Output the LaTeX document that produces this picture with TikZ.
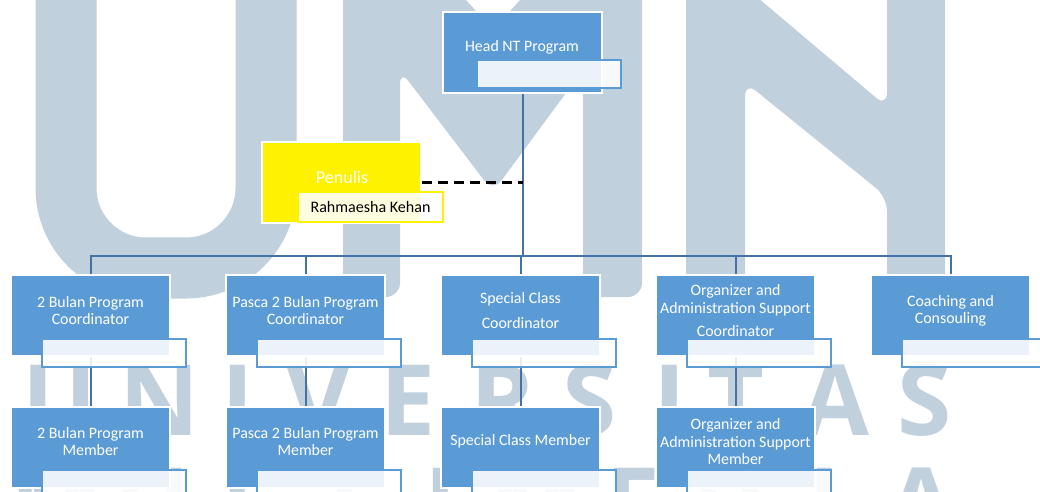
\documentclass[tikz,border=0pt]{standalone}
\usepackage{fontspec}
\setmainfont{Carlito}
\newfontfamily\wmfont{Open Sans}
\usetikzlibrary{positioning}
\pgfdeclarelayer{back}
\pgfsetlayers{back,main}
\newdimen\unitpx \unitpx=0.025cm
\definecolor{unitblue}{RGB}{91,155,213}
\definecolor{linkblue}{RGB}{68,114,163}
\definecolor{wmgray}{RGB}{193,208,221}
\tikzset{
  unit/.style={draw=white, line width=2\unitpx, fill=unitblue,
    minimum width=159\unitpx, minimum height=81\unitpx, inner sep=0pt},
  penbox/.style={unit, fill=yellow},
  namebox/.style={draw=unitblue, line width=2\unitpx, fill=white, fill opacity=0.88,
    text opacity=1, minimum width=144\unitpx, minimum height=28\unitpx, inner sep=0pt},
  penname/.style={namebox, draw=yellow, minimum width=145\unitpx, minimum height=30\unitpx,
    font=\fontsize{11.4}{13}\selectfont},
  title/.style={text=white, align=center, font=\fontsize{11.3}{12.2}\selectfont, inner sep=0pt},
  link/.style={draw=linkblue, line width=2\unitpx},
  letter/.style={text=wmgray, font=\wmfont\bfseries\fontsize{70}{70}\selectfont,
    inner sep=0pt, anchor=base}
}
\begin{document}
\begin{tikzpicture}[x=0.025cm, y=-0.025cm]
  \useasboundingbox (0,0) rectangle (1040,492);

  % head and writer
  \node[unit] (head) at (522.5,52.5) {};
  \node[namebox] (head-n) at (549,74.5) {};
  \node[title] (head-t) at (522,47) {Head NT Program};

  \node[penbox] (pen) at (341.5,182.5) {};
  \node[penname] (pen-n) at (370.5,207) {Rahmaesha Kehan};
  \node[title, font=\fontsize{12.8}{14}\selectfont] (pen-t) at (342,177) {Penulis};

  % coordinators
  \foreach \i/\x/\txt in {1/90.5/{2 Bulan Program\\Coordinator},
      2/305.5/{Pasca 2 Bulan Program\\Coordinator},
      3/520.5/{Special Class\\[5.5pt]Coordinator},
      4/735.5/{Organizer and\\[0.6pt]Administration Support\\[4.8pt]Coordinator},
      5/950.5/{Coaching and\\Consouling}} {
    \node[unit] (c\i) at (\x,315) {};
    \node[namebox] (c\i-n) at (\x+23.5,353) {};
    \node[title] (c\i-t) at (\x,310.5) {\txt};
  }

  % members
  \foreach \i/\x/\txt in {1/90.5/{2 Bulan Program\\Member},
      2/305.5/{Pasca 2 Bulan Program\\Member},
      3/520.5/{Special Class Member},
      4/735.5/{Organizer and\\[0.6pt]Administration Support\\Member}} {
    \node[unit] (m\i) at (\x,447) {};
    \node[namebox] (m\i-n) at (\x+23.5,484) {};
    \node[title] (m\i-t) at (\x,441.5) {\txt};
  }

  \begin{pgfonlayer}{back}
    \begin{scope}
      \clip (0,0) rectangle (1040,492);
      \draw[wmgray, line width=61\unitpx, rounded corners=80\unitpx]
        (66,-300) -- (66,268) -- (266,268) -- (266,-300);
      \fill[wmgray, rounded corners=10] (343,-30) -- (343,297) -- (400,297) -- (400,70)
        -- (493,192) -- (583,70) -- (583,297) -- (642,297) -- (642,-30) -- (547,-30)
        -- (493,30) -- (439,-30) -- cycle;
      \fill[wmgray, rounded corners=10] (686,-30) -- (725,-30) -- (887,107) -- (887,-30)
        -- (945,-30) -- (945,297) -- (887,297) -- (887,197) -- (745,82) -- (745,297)
        -- (686,297) -- cycle;
      \foreach \ch/\x in {U/60, N/160, I/238, V/318, E/408, R/503, S/590, I/670, T/736, A/835, S/925}
        \node[letter] (wm-\x) at (\x,435) {\ch};
      \foreach \ch [count=\k] in {M,U,L,T,I,M,E,D,I,A}
        \node[letter] (wmb-\k) at (57+96*\k-96,538) {\ch};
    \end{scope}

    \coordinate (bus) at (522.5,256);
    \draw[link] (head.south) -- (bus);
    \draw[link] (c1.north) |- (bus) -| (c5.north);
    \foreach \i in {2,3,4}
      \draw[link] (c\i.north) -- (c\i.north |- bus);
    \foreach \i in {1,...,4}
      \draw[link] (c\i.south) -- (m\i.north);
    \draw[line width=3\unitpx, dash pattern=on 10\unitpx off 6\unitpx]
      (pen.east) -- (pen.east -| head.south);
  \end{pgfonlayer}
\end{tikzpicture}
\end{document}
